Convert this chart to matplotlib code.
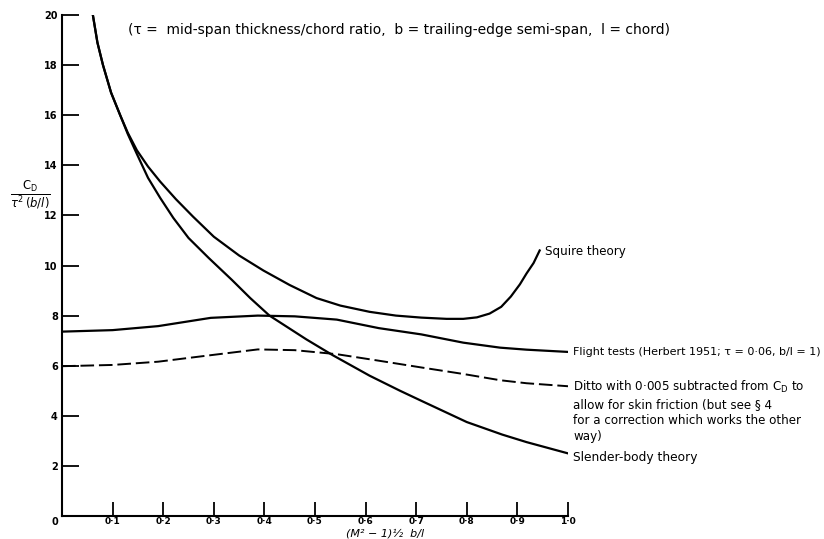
import numpy as np
import matplotlib
matplotlib.use('Agg')
import matplotlib.pyplot as plt

# Du lieu doc tu hinh
x_slender = [0.061, 0.07, 0.081, 0.097, 0.115, 0.13, 0.148, 0.17, 0.194, 0.22, 0.25,
             0.29, 0.336, 0.372, 0.41, 0.483, 0.535, 0.608, 0.668, 0.71, 0.8,
             0.87, 0.918, 1.0]
y_slender = [20, 18.9, 18, 16.9, 16, 15.25, 14.45, 13.5, 12.7, 11.9, 11.1,
             10.3, 9.42, 8.7, 8.0, 7.05, 6.42, 5.6, 5.0, 4.6, 3.75,
             3.25, 2.95, 2.5]

x_squire = [0.061, 0.07, 0.081, 0.097, 0.115, 0.13, 0.148, 0.17, 0.194, 0.225, 0.259,
            0.3, 0.35, 0.398, 0.45, 0.503, 0.55, 0.608, 0.66, 0.71, 0.76, 0.793,
            0.82, 0.845, 0.868, 0.887, 0.905, 0.918, 0.932, 0.944]
y_squire = [20, 18.9, 18, 16.9, 16, 15.3, 14.6, 13.95, 13.35, 12.65, 11.95,
            11.15, 10.4, 9.8, 9.22, 8.7, 8.4, 8.15, 8.0, 7.92, 7.87, 7.87,
            7.93, 8.08, 8.35, 8.76, 9.25, 9.68, 10.1, 10.6]

x_flight = [0, 0.1, 0.19, 0.294, 0.387, 0.46, 0.543, 0.626, 0.71, 0.793, 0.866, 0.918, 1.0]
y_flight = [7.36, 7.42, 7.58, 7.91, 8.0, 7.97, 7.84, 7.5, 7.25, 6.92, 6.72, 6.64, 6.55]
y_ditto = [5.98, 6.03, 6.16, 6.42, 6.65, 6.62, 6.46, 6.2, 5.93, 5.67, 5.42, 5.3, 5.18]

x_ticks = [0.1, 0.2, 0.3, 0.4, 0.5, 0.6, 0.7, 0.8, 0.9, 1.0]
x_ticklabels = ['0·1', '0·2', '0·3', '0·4', '0·5', '0·6', '0·7', '0·8', '0·9', '1·0']
y_ticks = [2, 4, 6, 8, 10, 12, 14, 16, 18, 20]

W, H = 824, 539
fig = plt.figure(figsize=(W / 100, H / 100), dpi=100)
ax = fig.add_axes([62 / W, 1 - 516 / H, (568 - 62) / W, (516 - 15) / H])

ax.plot(x_slender, y_slender, color='black', lw=1.6, solid_joinstyle='round')
ax.plot(x_squire, y_squire, color='black', lw=1.6, solid_joinstyle='round')
ax.plot(x_flight, y_flight, color='black', lw=1.6, solid_joinstyle='round')
ax.plot(x_flight, y_ditto, color='black', lw=1.4, dashes=(7, 2.5))

ax.set_xlim(0, 1.0)
ax.set_ylim(0, 20)
for s in ['top', 'right']:
    ax.spines[s].set_visible(False)
for s in ['left', 'bottom']:
    ax.spines[s].set_linewidth(1.5)

ax.set_xticks(x_ticks)
ax.set_xticklabels(x_ticklabels, fontsize=6.5, fontweight='bold')
ax.set_yticks(y_ticks)
ax.set_yticklabels([str(v) for v in y_ticks], fontsize=7, fontweight='bold')
ax.tick_params(axis='x', direction='in', length=10, width=1.3, pad=0.5)
ax.tick_params(axis='y', direction='in', length=12, width=1.3, pad=3)

# chu so 0 o goc
fig.text(55 / W, 1 - 522 / H, '0', fontsize=7, fontweight='bold', ha='center', va='center')

# nhan truc
fig.text(30 / W, 1 - 195 / H, r'$\frac{\mathrm{C_D}}{\tau^2\,(b/l)}$', fontsize=12,
         ha='center', va='center')
fig.text(385 / W, 1 - 533 / H, '(M² − 1)½  b/l', fontsize=8, fontstyle='italic',
         ha='center', va='center')

# chu thich
fig.text(128 / W, 1 - 30 / H,
         '(τ =  mid-span thickness/chord ratio,  b = trailing-edge semi-span,  l = chord)',
         fontsize=10, ha='left', va='center')
fig.text(545 / W, 1 - 251 / H, 'Squire theory', fontsize=8.6, ha='left', va='center')
fig.text(573 / W, 1 - 352 / H, 'Flight tests (Herbert 1951; τ = 0·06, b/l = 1)',
         fontsize=8, ha='left', va='center')
fig.text(573 / W, 1 - 379 / H,
         'Ditto with 0·005 subtracted from $\\mathrm{C_D}$ to\nallow for skin friction (but see § 4\n'
         'for a correction which works the other\nway)',
         fontsize=8.6, ha='left', va='top', linespacing=1.3)
fig.text(573 / W, 1 - 458 / H, 'Slender-body theory', fontsize=8.8, ha='left', va='center')

plt.savefig('out.png', dpi=100)
